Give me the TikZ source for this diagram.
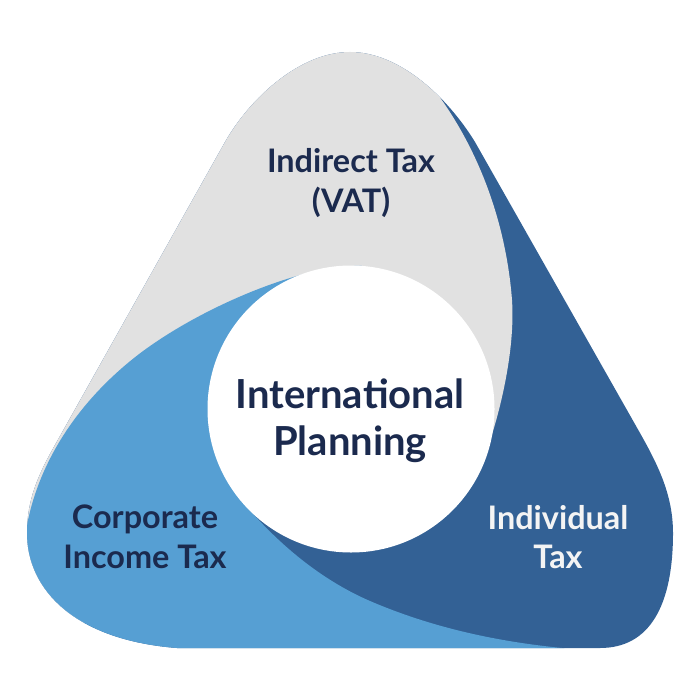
\documentclass[tikz,border=0pt]{standalone}
\usepackage{fontspec}
\setmainfont{Lato}
\definecolor{greyfill}{HTML}{E1E1E1}
\definecolor{lightblue}{HTML}{569FD3}
\definecolor{darkblue}{HTML}{336195}
\definecolor{navy}{HTML}{1B2A4E}
\definecolor{offwhite}{HTML}{F4F4F4}
\begin{document}
\begin{tikzpicture}[x=0.5pt,y=-0.5pt,
  lbl/.style={align=center, inner sep=0pt, text=navy,
    font=\bfseries\fontsize{16.2}{19.8}\selectfont},
  hubtext/.style={align=center, inner sep=0pt, text=navy,
    font=\bfseries\fontsize{20}{23.5}\selectfont},
  hubdisc/.style={circle, fill=white, inner sep=0pt, minimum size=143.5pt}]
\useasboundingbox (0,0) rectangle (700,700);
\begin{scope}
  \clip (350,52) .. controls (300,52) and (250,98) .. (225,142)
    -- (55,445) .. controls (38,475) and (27,500) .. (27,533)
    .. controls (27,590) and (75,640) .. (177,648)
    -- (600,648) .. controls (650,648) and (673,605) .. (673,533)
    .. controls (673,495) and (658,465) .. (640,433)
    -- (475,142) .. controls (448,98) and (400,52) .. (350,52) -- cycle;
  \fill[darkblue] (0,0) rectangle (700,700);
  \fill[greyfill] (420,-50) -- (420,72)
    .. controls (470,130) and (505,210) .. (512,300)
    .. controls (516,360) and (493,440) .. (478,472)
    -- (351,409) -- (200,540) -- (-50,720) -- (-50,-50) -- cycle;
  \fill[lightblue] (-50,545) -- (24,545)
    .. controls (32,470) and (75,405) .. (134,358)
    .. controls (193,311) and (300,264) .. (362,266)
    -- (351,409) -- (241,500)
    .. controls (267,531) and (310,575) .. (370,601)
    .. controls (440,631) and (520,648) .. (620,652)
    -- (620,720) -- (-50,720) -- cycle;
\end{scope}
\node[hubdisc] (hub) at (351,409) {};
\node[hubtext] (hublabel) at (350,421) {International\\Planning};
\node[lbl] (vat) at (351,183) {Indirect Tax\\(VAT)};
\node[lbl] (corp) at (145,537) {Corporate\\Income Tax};
\node[lbl, text=offwhite] (indiv) at (558,537) {Individual\\Tax};
\end{tikzpicture}
\end{document}
